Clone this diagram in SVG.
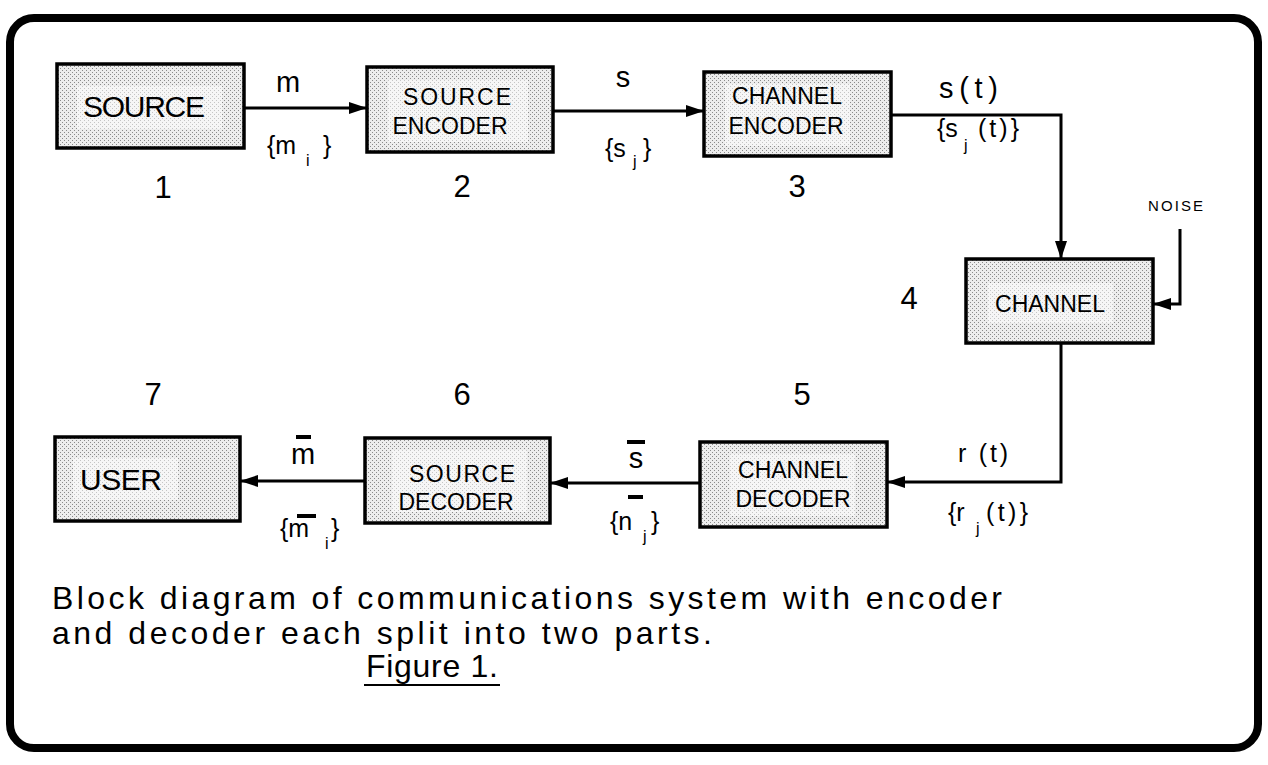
<svg xmlns="http://www.w3.org/2000/svg" width="1268" height="765" viewBox="0 0 1268 765">
<defs>
<pattern id="dots" width="4" height="4" patternUnits="userSpaceOnUse">
<rect width="4" height="4" fill="#ededed"/>
<rect x="0" y="0" width="1" height="1" fill="#8a8a8a"/>
<rect x="2" y="2" width="1" height="1" fill="#8a8a8a"/>
</pattern>
<marker id="ah" markerWidth="18" markerHeight="12" refX="17" refY="6" orient="auto" markerUnits="userSpaceOnUse">
<path d="M0,0 L18,6 L0,12 z" fill="#000"/>
</marker>
<style>
.box{fill:url(#dots);stroke:#000;stroke-width:3.5}
.lbg{fill:#fff;opacity:0.5}
.t{font-family:"Liberation Sans",Arial,sans-serif;fill:#000}
.lbl{font-size:23px;text-anchor:middle}
.num{font-size:31px;text-anchor:middle}
.sig{font-size:29px}
.set{font-size:25px}
.sub{font-size:16px}
.cap{font-size:32px}
.conn{fill:none;stroke:#000;stroke-width:3}
.bar{stroke:#000;stroke-width:4}
</style>
</defs>
<rect x="10" y="18" width="1248" height="730" rx="24" fill="#fff" stroke="#000" stroke-width="8"/>

<g id="connectors">
<path class="conn" d="M244,108 L366,108" marker-end="url(#ah)"/>
<path class="conn" d="M553,111 L703,111" marker-end="url(#ah)"/>
<path class="conn" d="M891,115 L1061,115 L1061,258" marker-end="url(#ah)"/>
<path class="conn" d="M1180,229 L1180,304 L1154,304" marker-end="url(#ah)"/>
<path class="conn" d="M1061,343 L1061,482 L888,482" marker-end="url(#ah)"/>
<path class="conn" d="M700,483 L551,483" marker-end="url(#ah)"/>
<path class="conn" d="M365,481 L241,481" marker-end="url(#ah)"/>
</g>

<g id="n1">
<rect class="box" x="57" y="64" width="187" height="84"/>
<rect class="lbg" x="77" y="86" width="145" height="43"/>
<text class="t" x="144" y="117" font-size="30" text-anchor="middle" textLength="122" lengthAdjust="spacing">SOURCE</text>
<text class="t num" x="163" y="198">1</text>
</g>
<g id="n2">
<rect class="box" x="367" y="67" width="186" height="85"/>
<rect class="lbg" x="388" y="80" width="140" height="62"/>
<text class="t lbl" x="457" y="105" textLength="108" lengthAdjust="spacing">SOURCE</text>
<text class="t lbl" x="450" y="134">ENCODER</text>
<text class="t num" x="462" y="197">2</text>
</g>
<g id="n3">
<rect class="box" x="704" y="72" width="187" height="84"/>
<rect class="lbg" x="725" y="84" width="125" height="62"/>
<text class="t lbl" x="787" y="104">CHANNEL</text>
<text class="t lbl" x="786" y="134">ENCODER</text>
<text class="t num" x="797" y="197">3</text>
</g>
<g id="n4">
<rect class="box" x="966" y="259" width="187" height="84"/>
<rect class="lbg" x="988" y="283" width="125" height="40"/>
<text class="t lbl" x="1050" y="312">CHANNEL</text>
<text class="t num" x="909" y="309">4</text>
</g>
<g id="n5">
<rect class="box" x="700" y="442" width="187" height="85"/>
<rect class="lbg" x="730" y="454" width="125" height="62"/>
<text class="t lbl" x="793" y="478">CHANNEL</text>
<text class="t lbl" x="793" y="507">DECODER</text>
<text class="t num" x="802" y="405">5</text>
</g>
<g id="n6">
<rect class="box" x="365" y="438" width="185" height="85"/>
<rect class="lbg" x="392" y="450" width="135" height="62"/>
<text class="t lbl" x="462" y="482" textLength="106" lengthAdjust="spacing">SOURCE</text>
<text class="t lbl" x="456" y="510">DECODER</text>
<text class="t num" x="462" y="405">6</text>
</g>
<g id="n7">
<rect class="box" x="55" y="437" width="185" height="84"/>
<rect class="lbg" x="73" y="458" width="105" height="42"/>
<text class="t" x="80" y="490" font-size="30" textLength="82" lengthAdjust="spacing">USER</text>
<text class="t num" x="153" y="405">7</text>
</g>

<g id="labels">
<text class="t sig" x="288" y="92" text-anchor="middle">m</text>
<text class="t set" x="267" y="154">{m</text>
<text class="t sub" x="306" y="166">i</text>
<text class="t set" x="323" y="154">}</text>

<text class="t sig" x="623" y="87" text-anchor="middle">s</text>
<text class="t set" x="605" y="157">{s</text>
<text class="t sub" x="633" y="167">j</text>
<text class="t set" x="643" y="157">}</text>

<text class="t sig" x="939" y="98" font-size="30" textLength="59" lengthAdjust="spacing">s(t)</text>
<text class="t set" x="937" y="137">{s</text>
<text class="t sub" x="964" y="151">j</text>
<text class="t set" x="978" y="137" textLength="41" lengthAdjust="spacing">(t)}</text>

<text class="t" x="1148" y="211" font-size="15" textLength="55" lengthAdjust="spacing">NOISE</text>

<text class="t set" x="958" y="462" textLength="50" lengthAdjust="spacing">r (t)</text>
<text class="t set" x="948" y="521">{r</text>
<text class="t sub" x="976" y="534">j</text>
<text class="t set" x="986" y="521" textLength="42" lengthAdjust="spacing">(t)}</text>

<line class="bar" x1="627" y1="442" x2="645" y2="442"/>
<text class="t sig" x="636" y="468" text-anchor="middle">s</text>
<line class="bar" x1="628" y1="497" x2="643" y2="497"/>
<text class="t set" x="610" y="530">{n</text>
<text class="t sub" x="643" y="542">j</text>
<text class="t set" x="651" y="530">}</text>

<line class="bar" x1="296" y1="437" x2="311" y2="437"/>
<text class="t sig" x="303" y="464" text-anchor="middle">m</text>
<line class="bar" x1="297" y1="516" x2="316" y2="516"/>
<text class="t set" x="280" y="537">{m</text>
<text class="t sub" x="325" y="549">i</text>
<text class="t set" x="331" y="537">}</text>
</g>

<g id="caption">
<text class="t cap" x="52" y="609" textLength="950" lengthAdjust="spacing">Block diagram of communications system with encoder</text>
<text class="t cap" x="52" y="644" textLength="660" lengthAdjust="spacing">and decoder each split into two parts.</text>
<text class="t cap" x="366" y="677" textLength="132" lengthAdjust="spacing">Figure 1.</text>
<line x1="364" y1="685" x2="500" y2="685" stroke="#000" stroke-width="2"/>
</g>
</svg>
